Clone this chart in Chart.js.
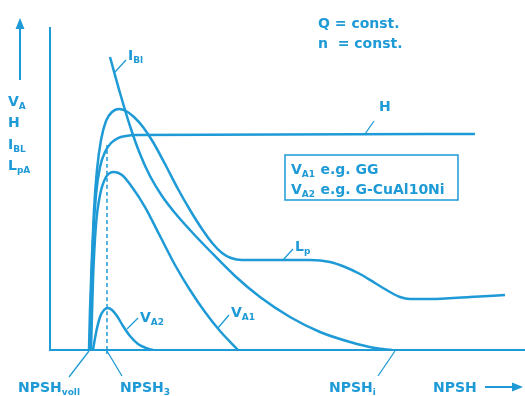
<!DOCTYPE html>
<html>
<head>
<meta charset="utf-8">
<script src="https://cdn.jsdelivr.net/npm/chart.js@4/dist/chart.umd.min.js"></script>
<style>
  html, body { margin: 0; background: #fff; }
</style>
</head>
<body>
<canvas id="chart" width="525" height="396"></canvas>
<script>
// schematic cavitation curves, NPSH on x (0..100), relative value on y (0..100)
const lpX = [8.21, 8.42, 8.84, 9.26, 9.89, 10.74, 11.79, 13.05, 14.53, 16.0, 17.68, 19.58, 21.68, 24.21, 26.95, 29.47, 32.0, 34.32, 36.21, 38.11, 40.42, 46.32, 54.74, 58.95, 62.11, 65.26, 68.42, 71.58, 73.68, 75.79, 80.0, 88.42, 95.79];
const lpY = [0, 12.38, 29.41, 43.34, 55.73, 65.02, 70.9, 73.68, 74.61, 73.99, 72.14, 69.04, 64.4, 57.59, 49.85, 43.34, 37.46, 32.82, 30.03, 28.48, 27.86, 27.86, 27.86, 27.24, 25.7, 23.53, 20.74, 17.96, 16.41, 15.79, 15.79, 16.41, 17.03];

const hX = [8.42, 8.63, 9.05, 9.68, 10.53, 11.58, 12.84, 14.32, 16.0, 17.89, 89.47];
const hY = [0, 15.48, 34.06, 47.99, 56.66, 61.3, 64.09, 65.63, 66.25, 66.56, 66.87];

const va1X = [8.63, 9.05, 9.68, 10.53, 11.79, 13.47, 15.16, 17.26, 20.0, 23.16, 26.32, 29.47, 32.63, 35.79, 39.58];
const va1Y = [0, 21.67, 38.7, 47.99, 53.56, 55.11, 54.18, 50.46, 44.27, 35.29, 26.32, 18.58, 11.76, 5.88, 0];

const iblX = [12.63, 14.74, 16.84, 18.95, 21.05, 23.58, 26.32, 29.47, 33.68, 38.95, 44.21, 50.53, 56.84, 63.16, 68.42, 72.0];
const iblY = [90.71, 79.57, 69.35, 60.68, 53.87, 47.68, 42.41, 37.15, 30.65, 22.91, 16.41, 10.22, 5.57, 2.48, 0.62, 0];

const va2X = [9.05, 9.68, 10.53, 11.37, 12.21, 13.05, 14.11, 15.37, 16.84, 18.53, 20.21, 21.68];
const va2Y = [0, 5.26, 10.22, 12.38, 13.0, 12.38, 10.53, 7.43, 4.33, 1.86, 0.62, 0];

const npsh3X = [12.0, 12.0];
const npsh3Y = [0, 63.5];

const BLUE = "#1e9ad6";
const FONT = "'DejaVu Sans', sans-serif";

function pts(xs, ys) {
  return xs.map((x, i) => ({ x: x, y: ys[i] }));
}

function curve(label, xs, ys, dash) {
  return {
    label: label,
    data: pts(xs, ys),
    borderColor: BLUE,
    borderWidth: dash ? 1.5 : 2.5,
    borderDash: dash ? [4, 3] : [],
    pointRadius: 0,
    fill: false,
    cubicInterpolationMode: "monotone",
  };
}

// draw text made of parts, [text, isSubscript]
function rich(ctx, x, y, parts, size) {
  let cx = x;
  parts.forEach(([t, sub]) => {
    const s = sub ? Math.round(size * 0.62) : size;
    ctx.font = "bold " + s + "px " + FONT;
    ctx.fillText(t, cx, sub ? y + size * 0.22 : y);
    cx += ctx.measureText(t).width + (sub ? 0.5 : 0);
  });
}

function line(ctx, x1, y1, x2, y2, w) {
  ctx.lineWidth = w;
  ctx.beginPath();
  ctx.moveTo(x1, y1);
  ctx.lineTo(x2, y2);
  ctx.stroke();
}

const decor = {
  id: "decor",
  afterDatasetsDraw(chart) {
    const ctx = chart.ctx;
    const a = chart.chartArea;
    ctx.save();
    ctx.strokeStyle = BLUE;
    ctx.fillStyle = BLUE;

    // axes
    line(ctx, a.left, a.top, a.left, a.bottom + 1, 2);
    line(ctx, a.left, a.bottom, a.right, a.bottom, 2);

    // up arrow
    line(ctx, 20, 80, 20, 28, 2);
    ctx.beginPath();
    ctx.moveTo(20, 18); ctx.lineTo(15.5, 29); ctx.lineTo(24.5, 29); ctx.closePath(); ctx.fill();

    // right arrow
    line(ctx, 485, 387, 512, 387, 2);
    ctx.beginPath();
    ctx.moveTo(523, 387); ctx.lineTo(512, 382.5); ctx.lineTo(512, 391.5); ctx.closePath(); ctx.fill();

    // leaders
    line(ctx, 115, 72, 126, 60, 1.3);
    line(ctx, 365, 134, 374, 121, 1.3);
    line(ctx, 283, 260, 293, 249, 1.3);
    line(ctx, 218, 328, 229, 315, 1.3);
    line(ctx, 127, 329, 138, 318, 1.3);
    line(ctx, 89, 351, 69, 377, 1.3);
    line(ctx, 107, 351, 122, 376, 1.3);
    line(ctx, 395, 351, 378, 376, 1.3);
    ctx.setLineDash([4, 3]);
    line(ctx, 107, 350, 107, 356, 1.5);
    ctx.setLineDash([]);

    // legend box
    ctx.lineWidth = 1.5;
    ctx.strokeRect(285, 155, 173, 45);

    const fs = 14;
    rich(ctx, 291, 174, [["V"], ["A1", 1], [" e.g. GG"]], fs);
    rich(ctx, 291, 194, [["V"], ["A2", 1], [" e.g. G-CuAl10Ni"]], fs);

    rich(ctx, 318, 28, [["Q = const."]], fs);
    rich(ctx, 318, 48, [["n  = const."]], fs);

    // left axis labels
    rich(ctx, 8, 106, [["V"], ["A", 1]], fs);
    rich(ctx, 8, 127, [["H"]], fs);
    rich(ctx, 8, 149, [["I"], ["BL", 1]], fs);
    rich(ctx, 8, 170, [["L"], ["pA", 1]], fs);

    // curve labels
    rich(ctx, 128, 60, [["I"], ["Bl", 1]], fs);
    rich(ctx, 379, 111, [["H"]], fs);
    rich(ctx, 295, 251, [["L"], ["p", 1]], fs);
    rich(ctx, 231, 317, [["V"], ["A1", 1]], fs);
    rich(ctx, 140, 322, [["V"], ["A2", 1]], fs);

    // x labels
    rich(ctx, 18, 392, [["NPSH"], ["voll", 1]], fs);
    rich(ctx, 120, 392, [["NPSH"], ["3", 1]], fs);
    rich(ctx, 329, 392, [["NPSH"], ["i", 1]], fs);
    rich(ctx, 433, 392, [["NPSH"]], fs);

    ctx.restore();
  },
};

new Chart(document.getElementById("chart"), {
  type: "line",
  data: {
    datasets: [
      curve("Lp", lpX, lpY),
      curve("H", hX, hY),
      curve("VA1", va1X, va1Y),
      curve("IBl", iblX, iblY),
      curve("VA2", va2X, va2Y),
      curve("NPSH3", npsh3X, npsh3Y, true),
    ],
  },
  options: {
    responsive: false,
    animation: false,
    layout: { padding: { left: 50, right: 0, top: 27, bottom: 46 } },
    plugins: { legend: { display: false }, tooltip: { enabled: false } },
    scales: {
      x: { type: "linear", min: 0, max: 100, display: false },
      y: { type: "linear", min: 0, max: 100, display: false },
    },
  },
  plugins: [decor],
});
</script>
</body>
</html>
